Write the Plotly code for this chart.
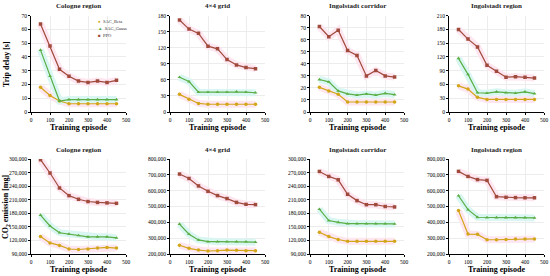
import plotly.graph_objects as go

episodes = [50, 100, 150, 200, 250, 300, 350, 400, 450]
panel_titles = ["Cologne region", "4×4 grid", "Ingolstadt corridor", "Ingolstadt region"]
methods = ["SAC_Beta", "SAC_Gauss", "PPO"]

# trip delay [s]
delay_beta = [
    [18, 12, 8, 6, 6, 6, 6, 6, 6],
    [33, 24, 16, 14.5, 14.5, 14.5, 14.5, 14.5, 14.5],
    [20.5, 17.5, 14.7, 8.3, 8.3, 8.3, 8.3, 8.3, 8.3],
    [57, 50, 32, 27.5, 27.5, 27.5, 27.5, 27.5, 27.5],
]
delay_gauss = [
    [45, 26, 8, 9, 9, 9, 9, 9, 9],
    [65, 57, 37, 37, 37, 37, 38, 37, 36],
    [27, 25, 17.5, 15, 14, 15, 14, 15.5, 14.4],
    [117, 82, 42, 41, 44, 42, 41, 44, 40],
]
delay_ppo = [
    [64, 48, 31, 26, 22.5, 21.5, 22.5, 21.5, 23],
    [172, 155, 147, 123, 118, 98, 88, 83, 81],
    [71, 62.5, 68, 51, 47, 30, 34.5, 30, 29],
    [180, 159, 142, 102, 89, 76, 77, 76, 74],
]

# CO2 emission [mg]
co2_beta = [
    [128500, 114500, 109000, 101000, 100000, 101000, 103000, 104500, 103000],
    [255000, 236000, 225000, 219000, 221000, 225000, 223000, 221000, 221000],
    [138000, 128500, 122000, 118000, 118000, 118000, 118000, 118000, 118000],
    [474000, 326000, 324000, 290000, 290000, 291000, 295000, 295000, 295000],
]
co2_gauss = [
    [176000, 152000, 137000, 134000, 131000, 128000, 128000, 128000, 125500],
    [389000, 325000, 289000, 278000, 278000, 278000, 278000, 278000, 275000],
    [189000, 164000, 160000, 157000, 157000, 157000, 157000, 157000, 156500],
    [568000, 480000, 432000, 430000, 430000, 430000, 430000, 430000, 428000],
]
co2_ppo = [
    [298500, 269000, 236000, 219000, 211000, 206000, 204000, 203000, 202000],
    [705000, 677000, 630000, 596000, 569000, 550000, 526000, 514000, 512000],
    [272500, 261500, 254000, 222000, 208000, 199000, 199000, 195000, 194000],
    [722000, 690000, 670000, 665000, 562000, 558000, 556000, 555000, 555000],
]

delay_ranges = [(0, 70, 10), (0, 180, 30), (0, 80, 10), (0, 210, 30)]
co2_ranges = [(90000, 300000, 30000), (200000, 800000, 100000),
              (90000, 300000, 30000), (200000, 800000, 100000)]

COLORS = {"SAC_Beta": "#d3a518", "SAC_Gauss": "#5aae45", "PPO": "#a04a3c"}
BANDS = {"SAC_Beta": "#fde6f0", "SAC_Gauss": "#d9f6f3", "PPO": "#fde6f0"}
SYMBOLS = {"SAC_Beta": "circle", "SAC_Gauss": "triangle-up", "PPO": "square"}
FONT = "Liberation Serif"

col_x = [(31, 126), (170, 265), (310, 404), (449, 544)]
row_y = [(15.7, 112), (159, 254)]
W, H = 550, 276

fig = go.Figure()
annotations = []


def label(text, xpx, ypx, size, angle=0, xanchor="center", color="black"):
    # paper annotation placed by pixel position (anchors set explicitly)
    return dict(text=text, x=xpx / W, y=1 - ypx / H, xref="paper", yref="paper",
                showarrow=False, xanchor=xanchor, yanchor="middle", textangle=angle,
                font=dict(family=FONT, size=size, color=color))


def add_panel(idx, row, col, series, yr):
    n = idx + 1
    xa = "x" if n == 1 else "x%d" % n
    ya = "y" if n == 1 else "y%d" % n
    x0, x1 = col_x[col]
    top, bot = row_y[row]
    # pale bands behind lines
    for m, vals in zip(methods, series):
        fig.add_trace(go.Scatter(x=episodes, y=vals, mode="lines", xaxis=xa, yaxis=ya,
                                 line=dict(color=BANDS[m], width=7), showlegend=False,
                                 hoverinfo="skip"))
    for m, vals in zip(methods, series):
        fig.add_trace(go.Scatter(x=episodes, y=vals, mode="lines+markers", xaxis=xa, yaxis=ya,
                                 name=m, showlegend=False,
                                 line=dict(color=COLORS[m], width=1.2),
                                 marker=dict(symbol=SYMBOLS[m], size=3.5, color=COLORS[m])))
    axis_common = dict(showline=True, linecolor="black", linewidth=1, ticks="outside",
                       ticklen=2, tickwidth=1, tickcolor="black", showgrid=True,
                       gridcolor="#ececec", gridwidth=0.5, zeroline=False, automargin=False,
                       tickfont=dict(family=FONT, size=5.5, color="black"))
    fig.layout["xaxis" + ("" if n == 1 else str(n))] = dict(
        domain=[x0 / W, x1 / W], anchor=ya, range=[0, 500], dtick=100, tick0=0, **axis_common)
    fig.layout["yaxis" + ("" if n == 1 else str(n))] = dict(
        domain=[1 - bot / H, 1 - top / H], anchor=xa, range=[yr[0], yr[1]], dtick=yr[2],
        tick0=yr[0], tickformat=",", **axis_common)
    annotations.append(label("<b>%s</b>" % panel_titles[col], (x0 + x1) / 2, top - 9.5, 7,
                             color="#222"))
    annotations.append(label("<b>Training episode</b>", (x0 + x1) / 2, bot + 15.5, 8))


for i in range(4):
    add_panel(i, 0, i, [delay_beta[i], delay_gauss[i], delay_ppo[i]], delay_ranges[i])
for i in range(4):
    add_panel(i + 4, 1, i, [co2_beta[i], co2_gauss[i], co2_ppo[i]], co2_ranges[i])

annotations.append(label("<b>Trip delay [s]</b>", 6, 64, 8, angle=-90))
annotations.append(label("<b>CO<sub>2</sub> emission [mg]</b>", 6, 207, 8, angle=-90))

# small legend in first panel
legend_marks = {"SAC_Beta": "●", "SAC_Gauss": "▲", "PPO": "■"}
for k, m in enumerate(methods):
    annotations.append(label(
        "<span style='color:%s'>%s</span>  %s" % (COLORS[m], legend_marks[m], m),
        96, 21 + 7 * k, 4.5, xanchor="left", color="#333"))

fig.update_layout(width=W, height=H, margin=dict(l=0, r=0, t=0, b=0),
                  plot_bgcolor="white", paper_bgcolor="white", showlegend=False,
                  annotations=annotations)

# page body has a default 8px margin; drop it so the figure fills the window
fig.write_html("out.html", config={"displayModeBar": False},
               post_script="document.body.style.margin='0';")
